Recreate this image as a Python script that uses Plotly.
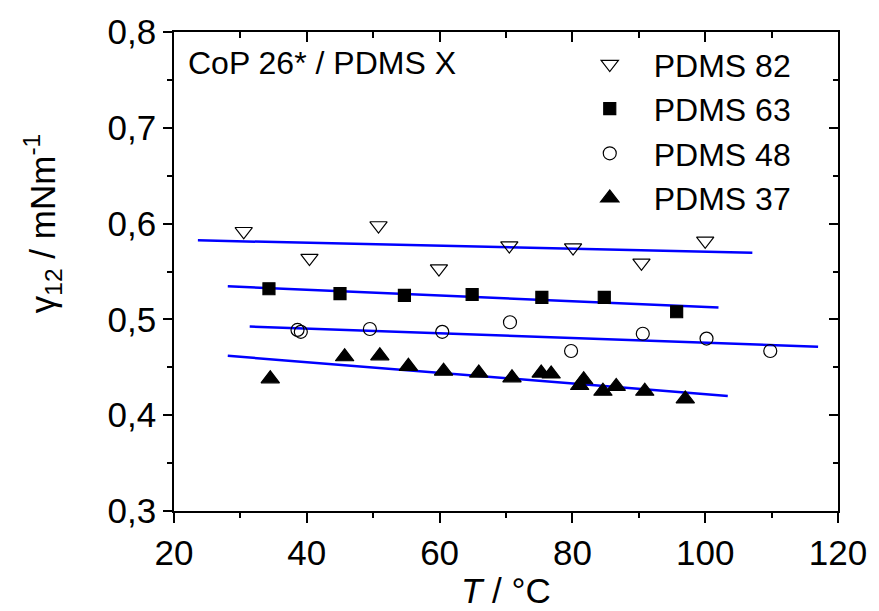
import plotly.graph_objects as go

# Interfacial tension gamma_12 (mN/m) vs temperature for CoP 26* against PDMS grades
t_82 = [30.5, 40.4, 50.8, 59.9, 70.5, 80.1, 90.4, 100.0]
g_82 = [0.592, 0.564, 0.598, 0.553, 0.577, 0.575, 0.559, 0.582]

t_63 = [34.3, 45.0, 54.7, 64.9, 75.4, 84.8, 95.7]
g_63 = [0.532, 0.527, 0.525, 0.526, 0.523, 0.523, 0.508]

t_48 = [38.6, 39.1, 49.5, 60.4, 70.6, 79.8, 90.6, 100.2, 109.8]
g_48 = [0.489, 0.487, 0.490, 0.487, 0.497, 0.467, 0.485, 0.480, 0.467]

t_37 = [34.5, 45.7, 51.0, 55.3, 60.6, 65.9, 70.9, 75.3, 76.8, 81.1, 81.7, 84.6, 86.6, 90.9, 97.0]
g_37 = [0.438, 0.461, 0.462, 0.451, 0.446, 0.444, 0.439, 0.444, 0.443, 0.431, 0.437,
        0.425, 0.430, 0.425, 0.417]

# Linear fits: end points (T, gamma)
fit_82_t = [23.6, 107.1]
fit_82_g = [0.5825, 0.5696]
fit_63_t = [28.1, 102.0]
fit_63_g = [0.5345, 0.5124]
fit_48_t = [31.4, 117.0]
fit_48_g = [0.4925, 0.4715]
fit_37_t = [28.1, 103.4]
fit_37_g = [0.462, 0.420]

series = [
    ("PDMS 82", t_82, g_82, "triangle-down-open", 15),
    ("PDMS 63", t_63, g_63, "square", 12),
    ("PDMS 48", t_48, g_48, "circle-open", 13),
    ("PDMS 37", t_37, g_37, "triangle-up", 16),
]
fits = [(fit_82_t, fit_82_g), (fit_63_t, fit_63_g), (fit_48_t, fit_48_g), (fit_37_t, fit_37_g)]

FONT = "Liberation Sans, Arial, sans-serif"
BLUE = "#0000ff"

fig = go.Figure()

for ft, fg in fits:
    fig.add_trace(go.Scatter(x=ft, y=fg, mode="lines", showlegend=False,
                             line=dict(color=BLUE, width=2.5), hoverinfo="skip"))

for name, tx, gy, sym, size in series:
    fig.add_trace(go.Scatter(
        x=tx, y=gy, mode="markers", name=name,
        marker=dict(symbol=sym, size=size, color="black",
                    line=dict(color="black", width=1.2)),
    ))

# invisible trace so the mirrored top/right axes are laid out
fig.add_trace(go.Scatter(x=[20, 120], y=[0.3, 0.8], xaxis="x2", yaxis="y2",
                         mode="markers", marker=dict(opacity=0), showlegend=False,
                         hoverinfo="skip"))

axis_common = dict(showgrid=False, zeroline=False, showline=True,
                   linecolor="black", linewidth=1.5,
                   tickcolor="black", tickwidth=1.5)

fig.update_layout(
    width=879, height=611,
    margin=dict(l=174, r=38, t=24, b=100),
    paper_bgcolor="white", plot_bgcolor="white",
    separators=",.",
    font=dict(family=FONT, color="black", size=31),
    xaxis=dict(range=[20, 120], dtick=20, tick0=20, ticks="outside", ticklen=10,
               minor=dict(dtick=10, ticks="outside", ticklen=5, tickcolor="black", tickwidth=1.5),
               tickfont=dict(size=35), **axis_common),
    yaxis=dict(range=[0.3, 0.8], dtick=0.1, tick0=0.3, tickformat=".1f",
               ticks="outside", ticklen=9,
               minor=dict(dtick=0.05, ticks="outside", ticklen=5, tickcolor="black", tickwidth=1.5),
               tickfont=dict(size=35), **axis_common),
    xaxis2=dict(range=[20, 120], overlaying="x", side="top", dtick=20, tick0=20,
                ticks="inside", ticklen=10, showticklabels=False,
                minor=dict(dtick=10, ticks="inside", ticklen=6, tickcolor="black", tickwidth=1.5),
                **axis_common),
    yaxis2=dict(range=[0.3, 0.8], overlaying="y", side="right", dtick=0.1, tick0=0.3,
                ticks="inside", ticklen=9, showticklabels=False,
                minor=dict(dtick=0.05, ticks="inside", ticklen=5, tickcolor="black", tickwidth=1.5),
                **axis_common),
    legend=dict(x=0.59, y=0.99, xanchor="left", yanchor="top",
                bgcolor="rgba(0,0,0,0)", font=dict(size=32, family=FONT),
                tracegroupgap=0, itemwidth=78),
    showlegend=True,
)

fig.add_annotation(text="CoP 26* / PDMS X", xref="paper", yref="paper",
                   x=0.018, y=0.935, xanchor="left", yanchor="middle",
                   showarrow=False, font=dict(size=32, family=FONT))

fig.add_annotation(text="γ<sub>12</sub> / mNm<sup>-1</sup>", xref="paper", yref="paper",
                   x=-0.198, y=0.60, xanchor="center", yanchor="middle", textangle=-90,
                   showarrow=False, font=dict(size=35, family=FONT))

fig.add_annotation(text="<i>T</i> / °C", xref="paper", yref="paper",
                   x=0.5, y=-0.165, xanchor="center", yanchor="middle",
                   showarrow=False, font=dict(size=35, family=FONT))

fig.write_html("out.html")
